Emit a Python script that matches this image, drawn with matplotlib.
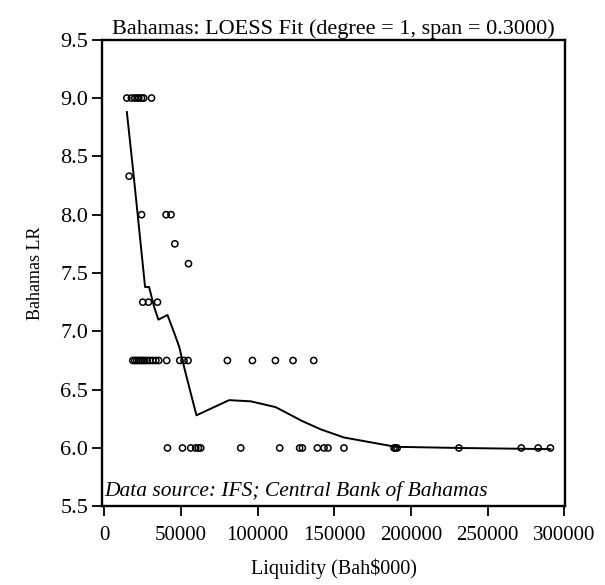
import matplotlib
matplotlib.use("Agg")
import matplotlib.pyplot as plt

# Observed liquidity (Bah$000) and lending rate (%) pairs, grouped by rate level
liq_900 = [14700, 17700, 19900, 21600, 22500, 24300, 25700, 30800]
liq_833 = [16200]
liq_800 = [24300, 40300, 43500]
liq_775 = [46000]
liq_758 = [54900]
liq_725 = [25100, 28800, 34700]
liq_675 = [18600, 19900, 21200, 22500, 23800, 25100, 26400, 28000, 29700,
           31600, 33600, 35500, 40700, 49200, 52000, 54600, 80300, 96600,
           111600, 123100, 136600]
liq_600 = [41200, 51000, 56400, 59600, 61400, 62900, 89000, 114400, 127400,
           129200, 139000, 143300, 145900, 156300, 189000, 190000, 191000,
           231300, 272000, 283000, 291000]

rate_levels = [9.0, 8.33, 8.0, 7.75, 7.58, 7.25, 6.75, 6.0]
liq_groups = [liq_900, liq_833, liq_800, liq_775, liq_758, liq_725, liq_675, liq_600]

# LOESS fitted curve (degree 1, span 0.3)
fit_x = [14700, 18800, 25900, 26600, 29200, 32500, 35300, 41200, 45500, 48800,
         52500, 60100, 81400, 95500, 111800, 129200, 141100, 156300, 190000,
         231300, 291000]
fit_y = [8.88, 8.38, 7.47, 7.38, 7.38, 7.21, 7.10, 7.14, 6.99, 6.87,
         6.67, 6.28, 6.41, 6.40, 6.35, 6.23, 6.16, 6.09, 6.01,
         6.00, 5.99]

x_ticks = [0, 50000, 100000, 150000, 200000, 250000, 300000]
y_ticks = [5.5, 6.0, 6.5, 7.0, 7.5, 8.0, 8.5, 9.0, 9.5]

plt.rcParams["font.family"] = ["Liberation Serif", "DejaVu Serif"]

fig = plt.figure(figsize=(6.05, 5.85), dpi=100)
ax = fig.add_axes([102 / 605, 78.7 / 585, 463 / 605, 466.6 / 585])

xs, ys = [], []
for lvl, grp in zip(rate_levels, liq_groups):
    xs.extend(grp)
    ys.extend([lvl] * len(grp))

ax.plot(fit_x, fit_y, color="black", lw=1.4, zorder=2)
ax.scatter(xs, ys, s=20, facecolors="none", edgecolors="black",
           linewidths=1.1, zorder=3)

ax.set_xlim(-1500, 300500)
ax.set_ylim(5.5, 9.5)
ax.set_xticks(x_ticks)
ax.set_xticklabels([str(v) for v in x_ticks], fontsize=15)
ax.set_yticks(y_ticks)
ax.set_yticklabels([f"{v:.1f}" for v in y_ticks], fontsize=16)
ax.tick_params(axis="both", direction="out", length=7, width=1.3,
               top=False, right=False)
ax.tick_params(axis="x", pad=7)
ax.tick_params(axis="y", pad=3)
for sp in ax.spines.values():
    sp.set_linewidth(1.7)
    sp.set_color("black")

ax.set_title("Bahamas: LOESS Fit (degree = 1, span = 0.3000)", fontsize=16, pad=4)
ax.set_xlabel("Liquidity (Bah$000)", fontsize=14.5, labelpad=10)
ax.set_ylabel("Bahamas LR", fontsize=13, labelpad=12)

ax.text(0.005, 0.012, "Data source: IFS; Central Bank of Bahamas",
        transform=ax.transAxes, fontsize=15.5, style="italic",
        ha="left", va="bottom")

fig.savefig("out.png", dpi=100)
